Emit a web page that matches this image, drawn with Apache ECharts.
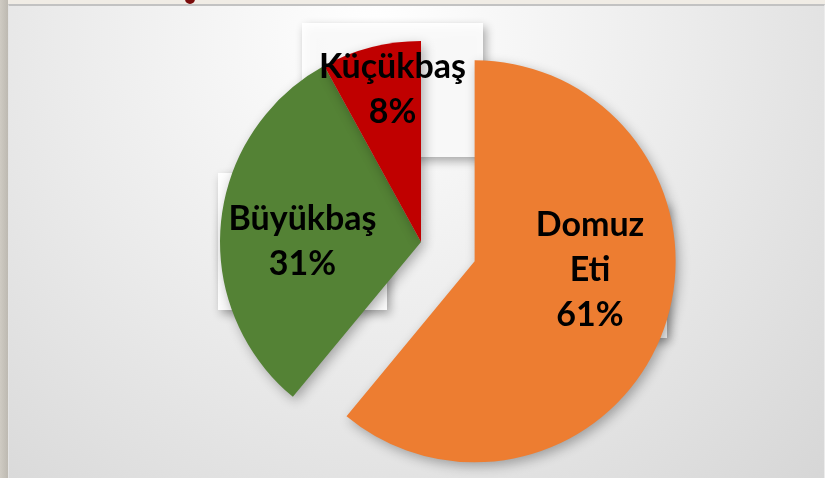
<!DOCTYPE html>
<html>
<head>
<meta charset="utf-8">
<script src="https://cdn.jsdelivr.net/npm/echarts@6/dist/echarts.min.js"></script>
<style>
html,body{margin:0;padding:0;width:825px;height:478px;overflow:hidden;background:#f0ece5;}
#edge{position:absolute;left:0;top:0;width:8px;height:478px;background:linear-gradient(to right,#cfcbc3,#bdb9b1);}
#dot{position:absolute;left:185px;top:-6px;width:10px;height:10px;border-radius:50%;background:#7a0c0c;}
#main{position:absolute;left:8px;top:4px;width:815px;height:472px;border-top:2px solid #c2c2c2;border-left:1px solid #e4e4e4;border-right:1px solid #ececec;}
</style>
</head>
<body>
<div id="edge"></div><div id="dot"></div>
<div id="main"></div>
<script>
var names = ['Domuz Eti', 'Büyükbaş', 'Küçükbaş'];
var values = [61, 31, 8];
var colors = ['#ED7D31', '#548235', '#C00000'];

// label boxes (chart coords): centre, inner width, padding
var labelCentre = [[581, 264.5], [293.5, 235.5], [383.5, 84]];
var labelWidth = [115, 169, 181];
var labelPad = [[0, 19.5], [23.5, 0], [22, 0]];

var pieCenter = [412, 236];
var pieRadius = 201;
var explode = 57;

// exploded slice centre, pushed out along its middle angle
var total = values.reduce(function (a, b) { return a + b; }, 0);
var midAng = (90 - values[0] / total * 180) * Math.PI / 180;
var explodedCenter = [pieCenter[0] + explode * Math.cos(midAng), pieCenter[1] - explode * Math.sin(midAng)];

var clear = 'rgba(0,0,0,0)';

var labelText = function (params) {
    return params.name.split(' ').join('\n') + '\n' + params.percent + '%';
};

function labelStyle(i, under) {
    var lab = {
        show: true,
        position: 'inside',
        rotate: 0,
        formatter: labelText,
        fontFamily: 'Lato',
        fontWeight: 'bold',
        fontSize: 34,
        lineHeight: 45,
        overflow: 'none',
        align: 'center',
        width: labelWidth[i],
        padding: labelPad[i]
    };
    if (under) {
        lab.color = clear;
        lab.backgroundColor = 'rgba(255,255,255,0.92)';
        lab.shadowBlur = 9;
        lab.shadowOffsetX = 3;
        lab.shadowOffsetY = 4;
        lab.shadowColor = 'rgba(0,0,0,0.35)';
    } else {
        lab.color = '#000';
    }
    return lab;
}

// mode: 'under' box layer, 'text' label layer, or list of visible slice indexes
function buildData(mode) {
    return names.map(function (n, i) {
        var item = {name: n, value: values[i]};
        if (mode === 'under' || mode === 'text') {
            item.itemStyle = {color: clear, shadowBlur: 0};
            item.label = labelStyle(i, mode === 'under');
        } else {
            item.itemStyle = {color: mode.indexOf(i) >= 0 ? colors[i] : clear};
            item.label = {show: false};
        }
        return item;
    });
}

var placeLabel = function (params) {
    var p = labelCentre[params.dataIndex];
    return {x: p[0], y: p[1], align: 'center', verticalAlign: 'middle'};
};

function pieSeries(z, center, mode) {
    return {
        type: 'pie',
        z: z,
        center: center,
        radius: pieRadius,
        startAngle: 90,
        clockwise: true,
        percentPrecision: 0,
        silent: true,
        animation: false,
        labelLine: {show: false},
        labelLayout: placeLabel,
        itemStyle: {
            shadowBlur: 12,
            shadowOffsetX: 3,
            shadowOffsetY: 4,
            shadowColor: 'rgba(0,0,0,0.3)'
        },
        data: buildData(mode)
    };
}

var mainEchart = echarts.init(document.getElementById('main'));
mainEchart.setOption({
    backgroundColor: {
        type: 'radial', x: 0.45, y: 0.06, r: 1.35,
        colorStops: [
            {offset: 0, color: '#ffffff'},
            {offset: 0.5, color: '#ebebeb'},
            {offset: 1, color: '#d6d6d6'}
        ]
    },
    series: [
        pieSeries(1, pieCenter, 'under'),
        pieSeries(2, explodedCenter, [0]),
        pieSeries(2, pieCenter, [1, 2]),
        pieSeries(3, pieCenter, 'text')
    ]
});
</script>
</body>
</html>
